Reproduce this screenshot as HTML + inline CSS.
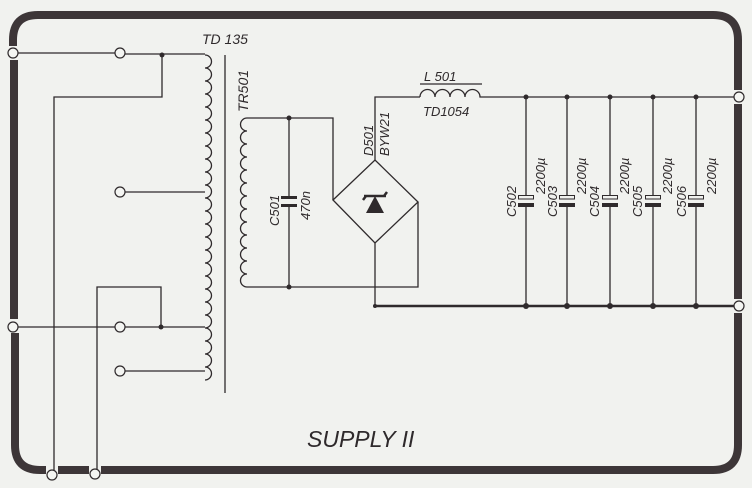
<!DOCTYPE html>
<html><head><meta charset="utf-8"><style>
html,body{margin:0;padding:0;background:#f1f2ef;}
svg{display:block}
text{font-family:"Liberation Sans",sans-serif;font-style:italic;fill:#2f2a2c}
</style></head><body>
<svg width="752" height="488" viewBox="0 0 752 488" xmlns="http://www.w3.org/2000/svg">
<rect width="752" height="488" fill="#f1f2ef"/>
<g stroke="#3d3638" stroke-width="8" fill="none">
<path d="M13,46 V40 Q13,15 38,15 H713 Q738,15 738,40 V90"/>
<path d="M738,104 V299"/>
<path d="M738,313 V445 Q738,470 713,470 H101"/>
<path d="M89,470 H58"/>
<path d="M46,470 H40 Q15,470 15,445 V333"/>
<path d="M14,319 V60"/>
</g>
<g stroke="#2f2a2c" stroke-width="1.3" fill="none">
<path d="M18,53 H115"/>
<path d="M125,54 H205"/>
<path d="M162,55 V97 H54 V470"/>
<path d="M125,192 H205"/>
<path d="M18,327 H115"/>
<path d="M125,327 H205"/>
<path d="M161,327 V287 H97 V469"/>
<path d="M125,371 H205"/>
<path d="M205,55 a6.5,6.5 0 0 1 0,13 a6.5,6.5 0 0 1 0,13 a6.5,6.5 0 0 1 0,13 a6.5,6.5 0 0 1 0,13 a6.5,6.5 0 0 1 0,13 a6.5,6.5 0 0 1 0,13 a6.5,6.5 0 0 1 0,13 a6.5,6.5 0 0 1 0,13 a6.5,6.5 0 0 1 0,13 a6.5,6.5 0 0 1 0,13 a6.5,6.5 0 0 1 0,13 a6.5,6.5 0 0 1 0,13 a6.5,6.5 0 0 1 0,13 a6.5,6.5 0 0 1 0,13 a6.5,6.5 0 0 1 0,13 a6.5,6.5 0 0 1 0,13 a6.5,6.5 0 0 1 0,13 a6.5,6.5 0 0 1 0,13 a6.5,6.5 0 0 1 0,13 a6.5,6.5 0 0 1 0,13 a6.5,6.5 0 0 1 0,13 a6.5,6.5 0 0 1 0,13 a6.5,6.5 0 0 1 0,13 a6.5,6.5 0 0 1 0,13 a6.5,6.5 0 0 1 0,13"/>
<path d="M225,55 V393"/>
<path d="M247,118 a6.5,6.5 0 0 0 0,13 a6.5,6.5 0 0 0 0,13 a6.5,6.5 0 0 0 0,13 a6.5,6.5 0 0 0 0,13 a6.5,6.5 0 0 0 0,13 a6.5,6.5 0 0 0 0,13 a6.5,6.5 0 0 0 0,13 a6.5,6.5 0 0 0 0,13 a6.5,6.5 0 0 0 0,13 a6.5,6.5 0 0 0 0,13 a6.5,6.5 0 0 0 0,13 a6.5,6.5 0 0 0 0,13 a6.5,6.5 0 0 0 0,13"/>
<path d="M247,118 H333 V200"/>
<path d="M247,287 H418 V202"/>
<path d="M289,118 V197 M289,205 V287"/>
<path d="M333,200 L375,160 L418,202 L375,243 Z"/>
<path d="M375,160 V97 H420"/>
<path d="M420,97 a7.5,7.5 0 0 1 15,0 a7.5,7.5 0 0 1 15,0 a7.5,7.5 0 0 1 15,0 a7.5,7.5 0 0 1 15,0 H734"/>
<path d="M420,84 H482"/>
<path d="M375,243 V306"/>
<path d="M526,97 V195 M526,206 V306 M567,97 V195 M567,206 V306 M610,97 V195 M610,206 V306 M653,97 V195 M653,206 V306 M696,97 V195 M696,206 V306"/>
</g>
<path d="M375,306 H734" stroke="#2f2a2c" stroke-width="2.5"/>
<path d="M366,213 L375,196 L384,213 Z" fill="#2f2a2c"/>
<path d="M364,196 H386 M384,196 L387,192 M366,196 L363,200" stroke="#2f2a2c" stroke-width="2.5" fill="none"/>
<rect x="281" y="196" width="16" height="3" fill="#2f2a2c"/>
<rect x="281" y="204" width="16" height="3" fill="#2f2a2c"/>
<g fill="#2f2a2c">
<rect x="518" y="203" width="16" height="4"/><rect x="559" y="203" width="16" height="4"/><rect x="602" y="203" width="16" height="4"/><rect x="645" y="203" width="16" height="4"/><rect x="688" y="203" width="16" height="4"/>
</g>
<g fill="none" stroke="#2f2a2c" stroke-width="1">
<rect x="518.5" y="195.5" width="15" height="3.5"/><rect x="559.5" y="195.5" width="15" height="3.5"/><rect x="602.5" y="195.5" width="15" height="3.5"/><rect x="645.5" y="195.5" width="15" height="3.5"/><rect x="688.5" y="195.5" width="15" height="3.5"/>
</g>
<g fill="#2f2a2c">
<circle cx="162" cy="55" r="2.5"/><circle cx="161" cy="327" r="2.5"/><circle cx="289" cy="118" r="2.5"/><circle cx="289" cy="287" r="2.5"/>
<circle cx="526" cy="97" r="2.5"/><circle cx="567" cy="97" r="2.5"/><circle cx="610" cy="97" r="2.5"/><circle cx="653" cy="97" r="2.5"/><circle cx="696" cy="97" r="2.5"/>
<circle cx="526" cy="306" r="3"/><circle cx="567" cy="306" r="3"/><circle cx="610" cy="306" r="3"/><circle cx="653" cy="306" r="3"/><circle cx="696" cy="306" r="3"/><circle cx="375" cy="306" r="2"/>
</g>
<g fill="#f4f5f2" stroke="#2f2a2c" stroke-width="1.2">
<circle cx="13" cy="53" r="5"/><circle cx="13" cy="327" r="5"/><circle cx="120" cy="53" r="5"/><circle cx="120" cy="192" r="5"/><circle cx="120" cy="327" r="5"/><circle cx="120" cy="371" r="5"/>
<circle cx="52" cy="475" r="5"/><circle cx="95" cy="474" r="5"/><circle cx="739" cy="97" r="5"/><circle cx="739" cy="306" r="5"/>
</g>
<text x="202" y="44" font-size="14">TD 135</text>
<text transform="translate(248,112) rotate(-90)" font-size="14">TR501</text>
<text transform="translate(279,226) rotate(-90)" font-size="13">C501</text>
<text transform="translate(310,220) rotate(-90)" font-size="13">470n</text>
<text transform="translate(373,156) rotate(-90)" font-size="13">D501</text>
<text transform="translate(389,156) rotate(-90)" font-size="13">BYW21</text>
<text x="424" y="81" font-size="13">L 501</text>
<text x="423" y="116" font-size="13">TD1054</text>
<g font-size="13">
<text transform="translate(516,217) rotate(-90)">C502</text>
<text transform="translate(557,217) rotate(-90)">C503</text>
<text transform="translate(599,217) rotate(-90)">C504</text>
<text transform="translate(642,217) rotate(-90)">C505</text>
<text transform="translate(686,217) rotate(-90)">C506</text>
<text transform="translate(545,194) rotate(-90)">2200µ</text>
<text transform="translate(586,194) rotate(-90)">2200µ</text>
<text transform="translate(629,194) rotate(-90)">2200µ</text>
<text transform="translate(672,194) rotate(-90)">2200µ</text>
<text transform="translate(716,194) rotate(-90)">2200µ</text>
</g>
<text x="307" y="447" font-size="23">SUPPLY II</text>
</svg>
</body></html>
